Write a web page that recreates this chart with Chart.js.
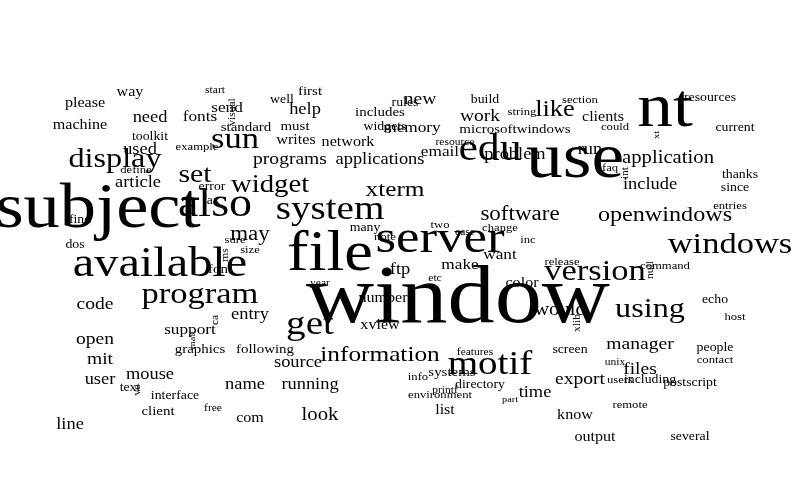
<!DOCTYPE html>
<html><head><meta charset="utf-8">
<script src="https://cdn.jsdelivr.net/npm/chart.js@4"></script>
<style>html,body{margin:0;background:#fff}#w{width:792px;height:504px}</style>
</head><body><div id="w"><canvas id="c"></canvas></div>
<script>
const words=["window","subject","use","file","nt","server","available","also","system","edu","motif","program","windows","get","version","display","sun","information","using","set","widget","xterm","software","openwindows","application","like","may","would","applications","programs","email","problem","run","include","new","work","need","fonts","used","machine","please","article","code","open","mit","support","entry","mouse","user","line","graphics","following","source","running","name","look","com","client","interface","text","export","files","manager","time","know","output","several","list","directory","make","ftp","number","color","etc","screen","unix","people","echo","release","command","thanks","since","entries","current","resources","section","clients","could","string","microsoftwindows","faq","rules","includes","memory","widgets","network","must","help","first","well","writes","standard","send","toolkit","example","define","error","fax","find","dos","size","sure","font","xview","two","case","change","want","inc","build","resource","host","contact","users","including","postscript","remote","part","printf","info","systems","environment","free","features","note","many","year","start","way","visual","ms","xlib","int","null","xt","ca","mail","ve"];
const weights=[82,63,64,56,62,46,42,40,34,38,34,30,30,34,30,28,30,22,28,26,25,22,20,21,18,23,20,18,16,17,15,16,16,14,17,17,14,13,14,12,12,14,17,17,17,13,16,16,14,14,11,11,14,14,14,18,12,11,10,10,17,17,17,14,12,12,10,12,10,15,14,12,12,8,10,8,10,10,9,9,10,10,9,10,10,9,12,9,9,11,9,10,11,13,10,12,11,14,11,10,12,11,13,10,9,9,10,10,10,10,9,9,11,12,9,8,9,13,9,10,8,9,9,9,10,10,9,7,8,9,11,9,8,8,9,10,8,8,12,8,8,8,8,8,7,8,7,8];
const xs=[458,98,575,330,665,440,160,215,330,490,490,200,730,310,595,115,235,380,650,195,270,395,520,665,668,555,250,560,380,290,440,515,590,650,420,480,150,200,140,80,85,138,95,95,100,190,250,150,100,70,200,265,298,310,245,320,250,158,175,130,580,640,640,535,575,595,690,445,480,460,400,383,522,435,570,615,715,715,562,665,740,735,730,735,710,580,603,615,522,515,610,405,380,412,385,348,295,305,310,282,296,246,227,150,197,136,212,211,80,75,250,235,220,380,440,465,500,500,528,485,455,735,715,620,650,690,630,510,445,418,452,440,213,475,385,365,320,215,130,232,225,577,625,650,657,215,193,137];
const ys=[300,210,160,255,110,240,265,205,210,150,365,295,245,325,272,160,140,355,310,175,185,190,215,215,158,110,235,310,160,160,152,155,150,185,100,117,118,117,150,125,103,183,305,340,360,330,315,375,380,425,350,350,363,385,385,415,418,412,396,388,380,370,345,393,415,437,437,410,385,265,270,298,283,278,350,362,348,300,262,266,175,188,206,128,98,100,117,127,112,130,168,103,113,128,127,142,127,110,92,100,140,128,108,137,147,170,187,201,220,245,250,240,270,325,225,232,228,255,240,100,142,317,360,380,380,383,405,400,390,377,373,395,408,352,237,228,283,90,92,112,255,323,173,270,135,320,340,390];
const rot=words.map(w=>["visual","ms","xlib","int","null","xt","ca","mail","ve"].includes(w));
const data=words.map((w,i)=>({x:xs[i],y:ys[i]}));
const cloud={id:'cloud',afterDatasetsDraw(ch){const ctx=ch.ctx,sx=ch.scales.x,sy=ch.scales.y;ctx.save();ctx.fillStyle='#000';ctx.textAlign='center';ctx.textBaseline='middle';
words.forEach((w,i)=>{const px=sx.getPixelForValue(xs[i]),py=sy.getPixelForValue(ys[i]);const s=weights[i]<=14?weights[i]+2:weights[i];ctx.save();ctx.translate(px,py);if(rot[i])ctx.rotate(-Math.PI/2);ctx.scale(1.15,1);ctx.font=s+'px "Liberation Serif"';ctx.fillText(w,0,0);ctx.restore();});ctx.restore();}};
new Chart(document.getElementById('c'),{type:'scatter',data:{datasets:[{data,pointRadius:0,showLine:false}]},
options:{responsive:true,maintainAspectRatio:false,animation:false,layout:{padding:0},plugins:{legend:{display:false},tooltip:{enabled:false}},
scales:{x:{type:'linear',min:0,max:792,display:false},y:{type:'linear',min:0,max:504,reverse:true,display:false}}},plugins:[cloud]});
</script></body></html>
